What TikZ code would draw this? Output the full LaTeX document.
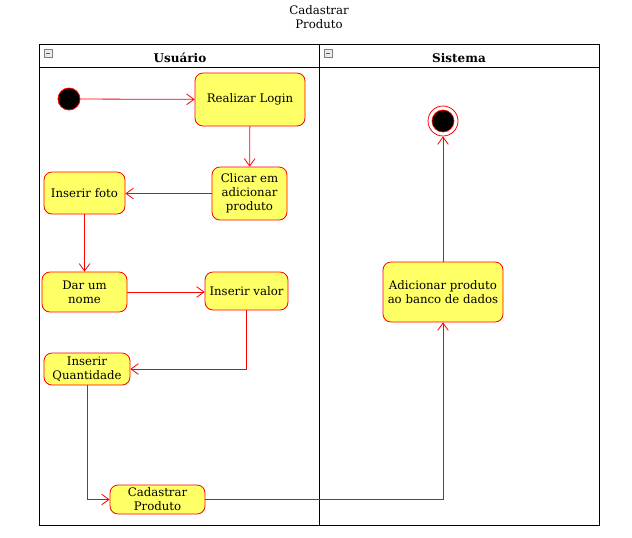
\documentclass[tikz,border=0pt]{standalone}
\usepackage{fontspec}
\setmainfont{DejaVu Serif}
\usetikzlibrary{arrows.meta}
\definecolor{boxfill}{HTML}{FFFF66}
\definecolor{edgered}{HTML}{FF0000}
\tikzset{
  act/.style={draw=edgered, fill=boxfill, rounded corners=6pt, align=center, inner sep=1pt, font=\fontsize{8.8}{10.5}\selectfont, line width=0.6pt},
  flow/.style={draw=edgered, line width=0.6pt, -{Straight Barb[length=5.5pt,width=8pt]}},
  lane/.style={draw=black, line width=0.7pt},
  minusbox/.style={draw=gray, fill=gray!15, line width=0.4pt, minimum size=6pt, inner sep=0pt},
}
\begin{document}
\begin{tikzpicture}[x=0.75pt,y=-0.75pt]
\useasboundingbox (0,0) rectangle (632,537);
% title
\node[align=center, font=\fontsize{8.8}{10.5}\selectfont] (title) at (319,17) {Cadastrar\\Produto};
% lanes
\draw[lane] (39,44) rectangle (599,525);
\draw[lane] (39,67) -- (599,67);
\draw[lane] (319,44) -- (319,525);
\node[font=\bfseries\fontsize{9}{10}\selectfont] (usuario) at (180,58) {Usuário};
\node[font=\bfseries\fontsize{9}{10}\selectfont] (sistema) at (459,58) {Sistema};
\node[minusbox] (m1) at (48,53) {};
\draw[gray!70!black, line width=0.5pt] (46,53) -- (50,53);
\node[minusbox] (m2) at (328,53) {};
\draw[gray!70!black, line width=0.5pt] (326,53) -- (330,53);
% start and end
\node[circle, draw=edgered, fill=black, minimum size=16.5pt, inner sep=0pt, line width=0.6pt] (start) at (69,99) {};
\node[circle, draw=edgered, fill=white, minimum size=22.5pt, inner sep=0pt, line width=0.6pt] (end) at (443,121) {};
\node[circle, draw=edgered, fill=black, minimum size=16.5pt, inner sep=0pt, line width=0.5pt] (endin) at (443,121) {};
% activities
\node[act, minimum width=82.5pt, minimum height=39.75pt] (login) at (250,99.5) {Realizar Login};
\node[act, minimum width=56.25pt, minimum height=39.75pt] (clicar) at (249.5,193.5) {Clicar em\\adicionar\\produto};
\node[act, minimum width=60.75pt, minimum height=31.5pt] (foto) at (84.5,193) {Inserir foto};
\node[act, minimum width=63.75pt, minimum height=30pt] (nome) at (84.5,292) {Dar um\\nome};
\node[act, minimum width=62.25pt, minimum height=28.5pt] (valor) at (246.5,291) {Inserir valor};
\node[act, minimum width=64.5pt, minimum height=24pt] (quant) at (87,369) {Inserir\\Quantidade};
\node[act, minimum width=71.25pt, minimum height=21.75pt] (cad) at (157.5,499.5) {Cadastrar\\Produto};
\node[act, minimum width=90pt, minimum height=45pt] (add) at (443,292) {Adicionar produto\\ao banco de dados};
% flows
\draw[flow] (start) -- (login);
\draw[flow] (login) -- (clicar);
\draw[flow] (clicar.west) -- (clicar.west -| foto.east);
\draw[flow] (foto) -- (foto |- nome.north);
\draw[flow] (nome.east) -- (nome.east -| valor.west);
\draw[flow] (valor.south) |- (quant.east);
\draw[flow] (quant.south) |- (cad.west);
\draw[flow] (cad.east) -| (add.south);
\draw[flow] (add.north) -- (end.south);
\end{tikzpicture}
\end{document}
